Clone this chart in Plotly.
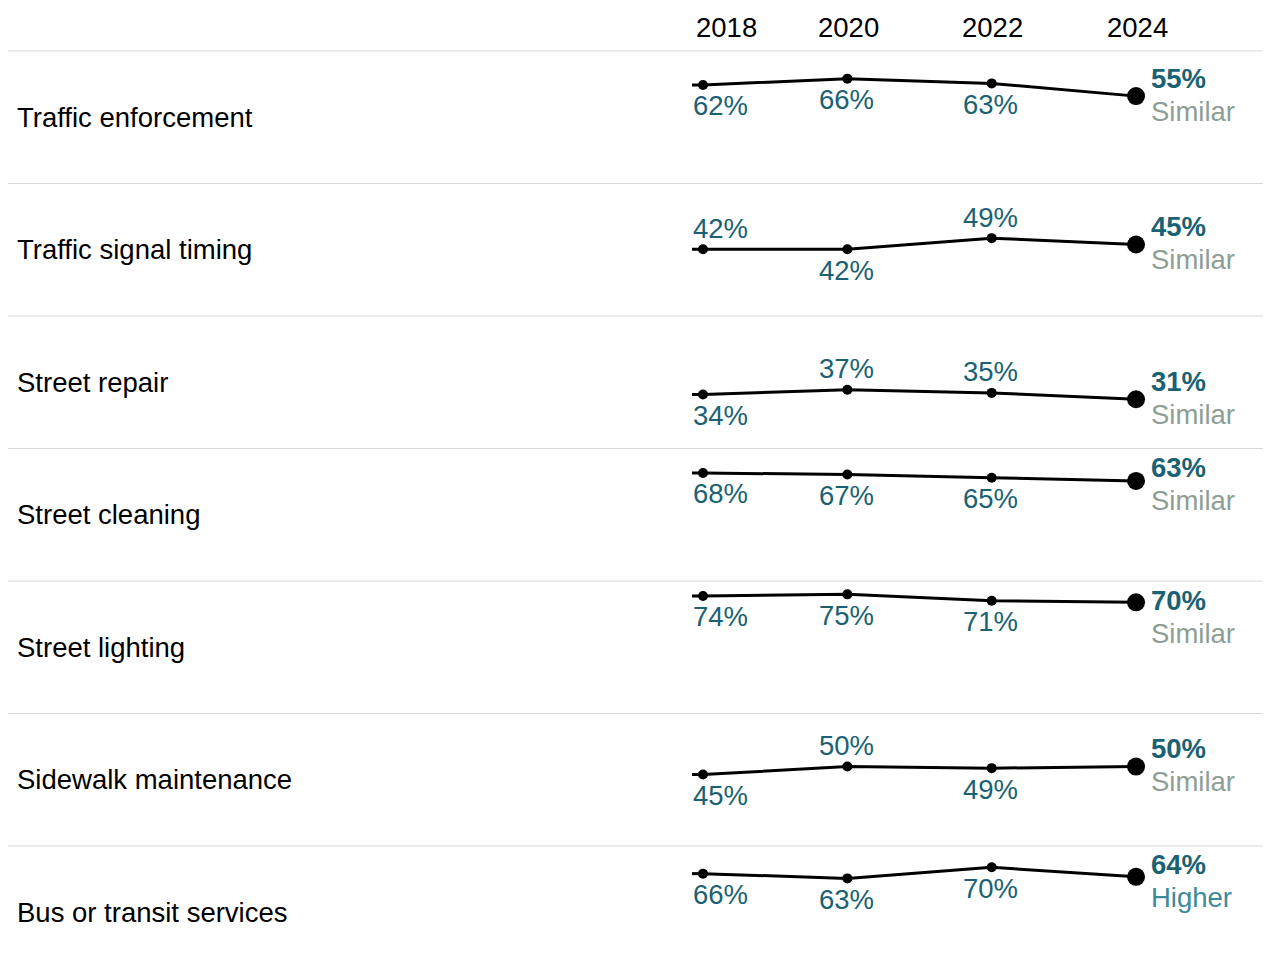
import plotly.graph_objects as go
from plotly.subplots import make_subplots

categories = ["Traffic enforcement", "Traffic signal timing", "Street repair",
              "Street cleaning", "Street lighting", "Sidewalk maintenance",
              "Bus or transit services"]
years = [2018, 2020, 2022, 2024]
year_labels = ["2018", "2020", "2022", "2024"]
values = [
    [62, 66, 63, 55],
    [42, 42, 49, 45],
    [34, 37, 35, 31],
    [68, 67, 65, 63],
    [74, 75, 71, 70],
    [45, 50, 49, 50],
    [66, 63, 70, 64],
]
# label placement for the first three points: 1 = above, -1 = below
label_side = [
    [-1, -1, -1],
    [1, -1, 1],
    [-1, 1, 1],
    [-1, -1, -1],
    [-1, -1, -1],
    [-1, 1, -1],
    [-1, -1, -1],
]
comparison = ["Similar", "Similar", "Similar", "Similar", "Similar", "Similar", "Higher"]

# figure sits at (8, 8) in the page
W, H = 1263, 965
TOP = 43.0
ROW_H = 132.5
Y_MAX = 83.4
PPU = ROW_H / Y_MAX
X0, X1 = 2008.370, 2025.870
PPX = W / (X1 - X0)

TEAL = "#1a6273"
GRAY = "#8e9e94"
HIGHER = "#3e8a9c"
FONT = "Liberation Sans, Arial, sans-serif"
FS = 27.5

n = len(categories)
fig = make_subplots(rows=n, cols=1, vertical_spacing=0)

for i in range(n):
    top_px = TOP + ROW_H * i
    bot_px = min(top_px + ROW_H, H)
    d0 = 1 - bot_px / H
    d1 = 1 - top_px / H
    y_low = (top_px + ROW_H - bot_px) / PPU
    ax = "" if i == 0 else str(i + 1)
    fig.layout["yaxis" + ax].update(domain=[d0, d1], range=[y_low, Y_MAX],
                                    visible=False, fixedrange=True)
    fig.layout["xaxis" + ax].update(range=[X0, X1], visible=False, fixedrange=True)

    v = values[i]
    xref = "x" + ax
    yref = "y" + ax
    # short lead-in stub before first point
    fig.add_shape(type="line", xref=xref, yref=yref, x0=years[0] - 11 / PPX, x1=years[0],
                  y0=v[0], y1=v[0], line=dict(color="black", width=3))
    fig.add_trace(go.Scatter(x=years, y=v, mode="lines+markers",
                             line=dict(color="black", width=3),
                             marker=dict(color="black", size=[10, 10, 10, 18], opacity=1,
                                         line=dict(width=0)),
                             hoverinfo="skip", showlegend=False),
                  row=i + 1, col=1)
    for j in range(3):
        s = label_side[i][j]
        if j == 0:
            fig.add_annotation(x=years[j], y=v[j], xref=xref, yref=yref,
                               text=f"{v[j]}%", showarrow=False, xanchor="left",
                               yanchor="middle", xshift=-12, yshift=21 * s,
                               font=dict(family=FONT, size=FS, color=TEAL))
        else:
            fig.add_annotation(x=years[j], y=v[j], xref=xref, yref=yref,
                               text=f"{v[j]}%", showarrow=False, xanchor="center",
                               yanchor="middle", xshift=-1, yshift=21 * s,
                               font=dict(family=FONT, size=FS, color=TEAL))
    # last value label, kept inside the row
    last = v[3]
    pt_px = top_px + (Y_MAX - last) * PPU
    val_px = max(pt_px - 18, top_px + 19)
    fig.add_annotation(x=years[3], y=last, xref=xref, yref=yref,
                       text=f"<b>{last}%</b>", showarrow=False, xanchor="left",
                       yanchor="middle", xshift=13, yshift=pt_px - val_px,
                       font=dict(family=FONT, size=FS, color=TEAL))
    fig.add_annotation(x=years[3], y=last, xref=xref, yref=yref,
                       text=comparison[i], showarrow=False, xanchor="left",
                       yanchor="middle", xshift=13, yshift=pt_px - (val_px + 33),
                       font=dict(family=FONT, size=FS,
                                 color=HIGHER if comparison[i] == "Higher" else GRAY))
    # category label
    fig.add_annotation(x=7 / W, y=1 - (top_px + ROW_H / 2) / H, xref="paper", yref="paper",
                       text=categories[i], showarrow=False, xanchor="left", yanchor="middle",
                       font=dict(family=FONT, size=FS, color="black"))
    # separator
    fig.add_shape(type="line", xref="paper", yref="paper", x0=0, x1=1,
                  y0=1 - top_px / H, y1=1 - top_px / H,
                  line=dict(color="#d9d9d9", width=1))

# year headers
for k, (yr, lab) in enumerate(zip(years, year_labels)):
    fig.add_annotation(x=yr, y=1 - 20 / H, xref="x", yref="paper", text=lab,
                       showarrow=False, xanchor="left" if k == 0 else "center",
                       yanchor="middle", xshift=-9 if k == 0 else 1,
                       font=dict(family=FONT, size=FS, color="black"))

fig.update_layout(width=W, height=H, margin=dict(l=0, r=0, t=0, b=0),
                  plot_bgcolor="white", paper_bgcolor="white", showlegend=False)

fig.write_html("out.html", config={"displayModeBar": False})
